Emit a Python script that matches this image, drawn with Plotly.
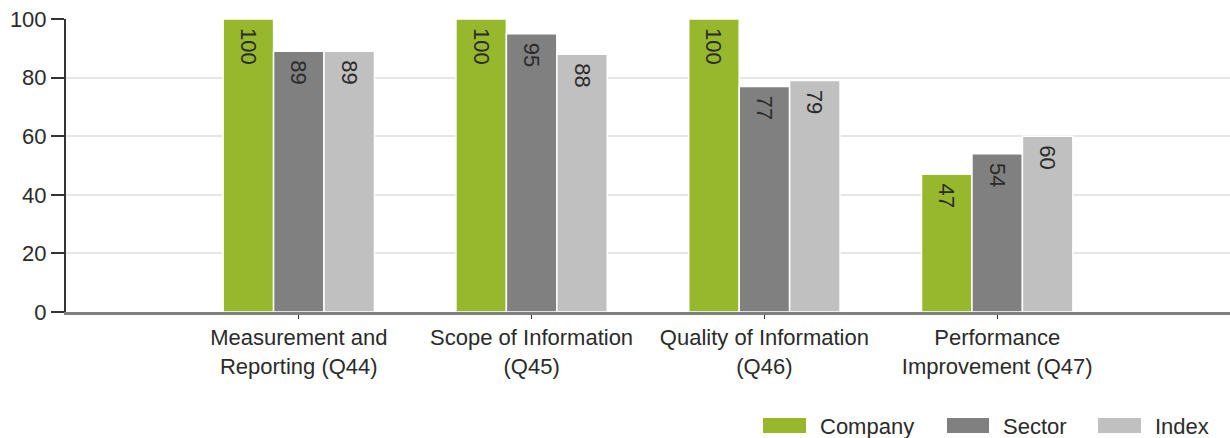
import plotly.graph_objects as go

categories = ["Measurement and<br>Reporting (Q44)", "Scope of Information<br>(Q45)",
              "Quality of Information<br>(Q46)", "Performance<br>Improvement (Q47)"]
series_names = ["Company", "Sector", "Index"]
company = [100, 100, 100, 47]
sector = [89, 95, 77, 54]
index_vals = [89, 88, 79, 60]
series_values = [company, sector, index_vals]
colors = ["#97B82C", "#808080", "#C0C0C0"]
y_ticks = [0, 20, 40, 60, 80, 100]

W, H = 1230, 438
L, R, T, B = 66, 0, 19, 126
FONT = "Liberation Sans, Arial, sans-serif"
TXT = "#2b2b2b"
FS = 22


def px2x(px):
    return (px - L) / (W - L - R)


def py2y(py):
    return (H - B - py) / (H - T - B)


fig = go.Figure()
for name, vals, col in zip(series_names, series_values, colors):
    fig.add_trace(go.Bar(
        x=categories, y=vals, name=name,
        marker=dict(color=col, line=dict(color="white", width=1.5)),
        text=vals, texttemplate="\u00a0%{text}", textposition="inside",
        insidetextanchor="end", textangle=90, constraintext="none",
        textfont=dict(family=FONT, size=FS, color=TXT),
        showlegend=False, cliponaxis=False, hoverinfo="skip",
    ))

# Legend (swatches + labels)
legend_pos = [(763, 806, 818), (947, 989, 1001), (1098, 1141, 1153)]
shapes = []
annotations = []
for (x0, x1, tx), name, col in zip(legend_pos, series_names, colors):
    shapes.append(dict(type="rect", xref="paper", yref="paper",
                       x0=px2x(x0), x1=px2x(x1), y0=py2y(433), y1=py2y(418),
                       fillcolor=col, line=dict(width=0)))
    annotations.append(dict(text=name, xref="paper", yref="paper",
                            x=px2x(tx), y=py2y(426), xanchor="left", yanchor="middle",
                            showarrow=False, font=dict(family=FONT, size=FS, color=TXT)))

fig.update_layout(
    width=W, height=H, autosize=False,
    margin=dict(l=L, r=R, t=T, b=B, pad=0, autoexpand=False),
    paper_bgcolor="white", plot_bgcolor="white",
    barmode="group", bargap=0.35, bargroupgap=0,
    font=dict(family=FONT, size=FS, color=TXT),
    shapes=shapes, annotations=annotations,
    xaxis=dict(type="category", range=[-1, 4], showline=True, linecolor="#808080",
               linewidth=3, ticks="outside", ticklen=4, tickcolor="#333333", tickwidth=1,
               showgrid=False, zeroline=False, automargin=False,
               tickfont=dict(family=FONT, size=FS, color=TXT)),
    yaxis=dict(range=[0, 100], tickvals=y_ticks, showline=True, linecolor="#333333",
               linewidth=2, ticks="outside", ticklen=13, tickcolor="#333333", tickwidth=2,
               showgrid=True, gridcolor="#E6E6E6", gridwidth=2, zeroline=False,
               automargin=False,
               tickfont=dict(family=FONT, size=FS, color=TXT)),
)

fig.write_html("out.html", config={"displayModeBar": False},
               post_script="document.body.style.margin='0';")
